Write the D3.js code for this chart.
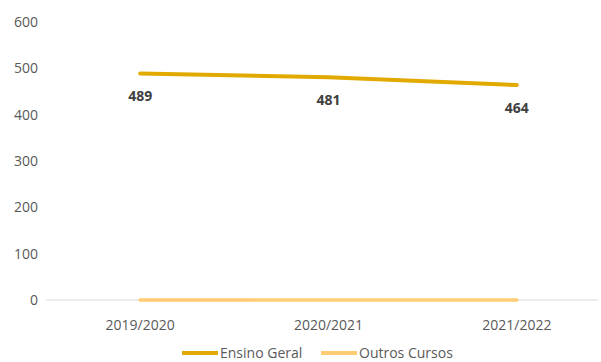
<!DOCTYPE html>
<html>
<head>
<meta charset="utf-8">
<script src="https://cdn.jsdelivr.net/npm/d3@7"></script>
<style>
  html, body { margin: 0; padding: 0; background: #fff; }
  svg { display: block; font-family: "Open Sans", "Noto Sans", sans-serif; }
</style>
</head>
<body>
<svg id="chart" width="601" height="362"></svg>
<script>
// School years on the horizontal axis
const years = ["2019/2020", "2020/2021", "2021/2022"];
// Enrolments per course type
const ensinoGeral = [489, 481, 464];
const outrosCursos = [0, 0, 0];
// Vertical axis ticks
const yTicks = [0, 100, 200, 300, 400, 500, 600];

const seriesNames = ["Ensino Geral", "Outros Cursos"];
const seriesColors = ["#E2AA00", "#FFCC73"];

const svg = d3.select("#chart");
const W = 601, H = 362;

const x = d3.scaleBand().domain(years).range([46, 611]);
const y = d3.scaleLinear().domain([0, 600]).range([300, 22]);
const cx = d => x(d) + x.bandwidth() / 2;

// y tick labels (no gridlines)
svg.append("g").selectAll("text").data(yTicks).join("text")
  .attr("x", 38).attr("y", d => y(d)).attr("dy", "0.35em")
  .attr("text-anchor", "end").attr("fill", "#595959")
  .attr("font-size", 14).text(d => d);

// baseline axis
svg.append("line")
  .attr("x1", 46).attr("x2", W - 3)
  .attr("y1", y(0)).attr("y2", y(0))
  .attr("stroke", "#D9D9D9").attr("stroke-width", 1);

// x tick labels
svg.append("g").selectAll("text").data(years).join("text")
  .attr("x", d => cx(d)).attr("y", y(0) + 30)
  .attr("text-anchor", "middle").attr("fill", "#595959")
  .attr("font-size", 14).text(d => d);

const line = d3.line().x((d, i) => cx(years[i])).y(d => y(d));

// Outros Cursos first, so the main series sits on top
svg.append("path").datum(outrosCursos)
  .attr("d", line).attr("fill", "none")
  .attr("stroke", seriesColors[1]).attr("stroke-width", 3.5)
  .attr("stroke-linecap", "round");

svg.append("path").datum(ensinoGeral)
  .attr("d", line).attr("fill", "none")
  .attr("stroke", seriesColors[0]).attr("stroke-width", 4)
  .attr("stroke-linecap", "round");

// value labels below the Ensino Geral points
svg.append("g").selectAll("text").data(ensinoGeral).join("text")
  .attr("x", (d, i) => cx(years[i])).attr("y", d => y(d) + 28)
  .attr("text-anchor", "middle").attr("fill", "#404040")
  .attr("font-weight", "bold").attr("font-size", 14).text(d => d);

// legend
const legendItems = [
  { name: seriesNames[0], color: seriesColors[0], x: 182 },
  { name: seriesNames[1], color: seriesColors[1], x: 321 }
];
const lg = svg.append("g").selectAll("g").data(legendItems).join("g")
  .attr("transform", d => `translate(${d.x},353)`);
lg.append("line").attr("x1", 0).attr("x2", 36)
  .attr("stroke", d => d.color).attr("stroke-width", 4);
lg.append("text").attr("x", 38).attr("dy", "0.35em")
  .attr("fill", "#595959").attr("font-size", 14).text(d => d.name);
</script>
</body>
</html>
